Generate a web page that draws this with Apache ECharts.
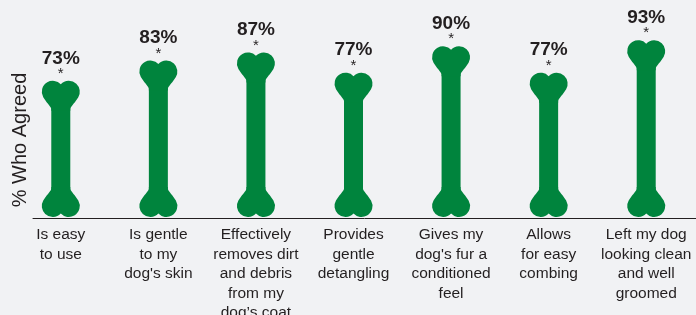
<!DOCTYPE html>
<html>
<head>
<meta charset="utf-8">
<script src="https://cdn.jsdelivr.net/npm/echarts@6/dist/echarts.min.js"></script>
<style>
  html, body { margin: 0; padding: 0; background: #f1f2f4; }
  #chart { width: 696px; height: 315px; }
</style>
</head>
<body>
<div id="chart"></div>
<script>
// 分类（x轴文字）
var categories = [
  'Is easy\nto use',
  'Is gentle\nto my\ndog\'s skin',
  'Effectively\nremoves dirt\nand debris\nfrom my\ndog\u2019s coat',
  'Provides\ngentle\ndetangling',
  'Gives my\ndog\'s fur a\nconditioned\nfeel',
  'Allows\nfor easy\ncombing',
  'Left my dog\nlooking clean\nand well\ngroomed'
]
// 同意比例 %
var agreed = [73, 83, 87, 77, 90, 77, 93]
// 显著性标记
var marks = ['*', '*', '*', '*', '*', '*', '*']

var green = '#00843d'
var ink = '#231f20'
var font = '"Liberation Sans", Arial, sans-serif'

// 骨头一端（上端），38 x 30，心形两瓣 + 斜收到骨干
var boneEnd = 'path://M9.5,30 L9.5,28 C8.5,25 4.5,21.7 1.47,16.5 A11,11 0 0 1 19,3.45 A11,11 0 0 1 36.53,16.5 C33.5,21.7 29.5,25 28.5,28 L28.5,30 Z'

var myChart = echarts.init(document.getElementById('chart'))
var option = {
  backgroundColor: '#f1f2f4',
  animation: false,
  textStyle: { fontFamily: font },
  grid: [
    { left: 12, right: 1, top: 26, bottom: 98, outerBoundsMode: 'none' },
    { left: 33, right: 0, top: 62, bottom: 97, outerBoundsMode: 'none' }
  ],
  xAxis: [
    {
      type: 'category',
      gridIndex: 0,
      data: categories,
      axisLine: { show: false },
      axisTick: { show: false },
      axisLabel: {
        interval: 0,
        margin: 8,
        color: ink,
        fontSize: 15.5,
        lineHeight: 19.5,
        fontFamily: font
      }
    },
    {
      // 底部横线
      type: 'category',
      gridIndex: 1,
      data: categories,
      axisLine: { show: true, lineStyle: { color: ink, width: 1 } },
      axisTick: { show: false },
      axisLabel: { show: false }
    }
  ],
  yAxis: [
    {
      type: 'value',
      gridIndex: 0,
      min: 6,
      max: 100,
      startValue: 6, // 骨头从轴底部开始
      show: false
    },
    {
      type: 'value',
      gridIndex: 1,
      name: '% Who Agreed',
      nameLocation: 'middle',
      nameGap: 3,
      nameRotate: 90,
      nameTextStyle: { color: ink, fontSize: 20, fontFamily: font },
      axisLine: { show: false },
      axisTick: { show: false },
      axisLabel: { show: false },
      splitLine: { show: false }
    }
  ],
  series: [
    {
      // 骨头中段
      type: 'pictorialBar',
      xAxisIndex: 0,
      yAxisIndex: 0,
      data: agreed,
      symbol: 'rect',
      symbolSize: [19, '85%'],
      symbolPosition: 'center',
      itemStyle: { color: green },
      z: 2
    },
    {
      // 骨头下端
      type: 'pictorialBar',
      xAxisIndex: 0,
      yAxisIndex: 0,
      data: agreed,
      symbol: boneEnd,
      symbolSize: [38, 30],
      symbolPosition: 'start',
      symbolRotate: 180,
      itemStyle: { color: green },
      z: 3
    },
    {
      // 骨头上端 + 数值
      type: 'pictorialBar',
      xAxisIndex: 0,
      yAxisIndex: 0,
      data: agreed,
      symbol: boneEnd,
      symbolSize: [38, 30],
      symbolPosition: 'end',
      itemStyle: { color: green },
      z: 4,
      label: {
        show: true,
        position: 'top',
        distance: 1,
        formatter: function (p) {
          return '{v|' + p.value + '%}\n{s|' + marks[p.dataIndex] + '}'
        },
        rich: {
          v: { fontSize: 19, fontWeight: 'bold', color: ink, lineHeight: 19, fontFamily: font },
          s: { fontSize: 15, color: ink, lineHeight: 12, fontFamily: font }
        }
      }
    }
  ]
}
myChart.setOption(option)
</script>
</body>
</html>
